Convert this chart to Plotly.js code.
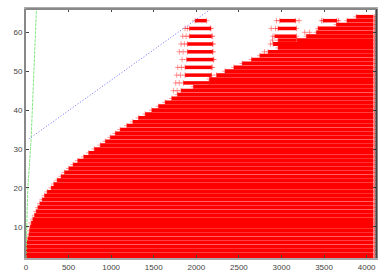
<!DOCTYPE html>
<html><head><meta charset="utf-8">
<script src="https://cdn.plot.ly/plotly-3.0.1.min.js"></script>
<style>html,body{margin:0;padding:0;background:#fff}</style></head>
<body><div id="c" style="width:390px;height:273px"></div>
<script>
var mainLevels=[2,3,4,5,6,7,8,9,10,11,12,13,14,15,16,17,18,19,20,21,22,23,24,25,26,27,28,29,30,31,32,33,34,35,36,37,38,39,40,41,42,43,44,45,46,47,48,49,50,51,52,53,54,55,56,57,58,59,60,61,62,63,64];
var mainStart=[0,0,0,2,10,22,34,41,49,61,80,100,119,139,162,190,217,248,295,326,365,412,451,502,553,607,678,736,802,872,931,989,1048,1106,1184,1255,1321,1399,1477,1555,1633,1711,1778,1821,1965,2153,2153,2238,2336,2441,2539,2648,2746,2843,2960,2902,3183,3292,3409,3429,3644,3769,3878];
var mainEnd=4080;
var islandLevels=[63,61,59,57,55,53,51,49,47,63,63,61,59,58];
var islandStart=[1985,1918,1918,1895,1895,1887,1868,1868,1848,2980,3488,2960,2922,2960];
var islandEnd=[2121,2172,2180,2192,2192,2200,2180,2180,2153,3167,3651,3175,3175,3175];
var looseY=[61,61,59,59,57,57,55,55,53,51,51,49,49,47,47,45,45,63,63,61,61,59,60,60,58,57,55,63,63,61,59,57,55,53,51];
var looseX=[1868,1895,1840,1880,1821,1860,1801,1845,1833,1782,1825,1770,1815,1758,1800,1731,1775,2941,3207,2880,2930,2900,3273,3331,2895,2870,2800,3470,3670,2165,2190,2195,2195,2205,2188];
var greenX=[0,6,21,53,61,123];
var greenY=[2,10,20,30,33,66];
var blueX=[33,2170];
var blueY=[32.6,66];
var rightEdge=4092;

function segs(ys,a,b){var X=[],Y=[];for(var i=0;i<ys.length;i++){X.push(a[i],b[i],null);Y.push(ys[i],ys[i],null);}return{x:X,y:Y};}
var endArr=mainLevels.map(function(){return mainEnd;});
var m=segs(mainLevels,mainStart,endArr), s=segs(islandLevels,islandStart,islandEnd);
var edgeX=mainLevels.map(function(){return rightEdge;});
var ptX=mainStart.concat(islandStart,islandEnd,looseX,edgeX);
var ptY=mainLevels.concat(islandLevels,islandLevels,looseY,mainLevels);
var red='rgb(255,0,0)';
var traces=[
 {x:m.x,y:m.y,mode:'lines',line:{color:red,width:3.8},hoverinfo:'skip'},
 {x:s.x,y:s.y,mode:'lines',line:{color:red,width:3.5},hoverinfo:'skip'},
 {x:ptX,y:ptY,mode:'markers',marker:{symbol:'cross-thin-open',size:4,color:'rgba(255,0,0,0.4)',line:{color:'rgba(255,0,0,0.4)',width:1}},hoverinfo:'skip'},
 {x:greenX,y:greenY,mode:'lines',line:{color:'#7fe87f',width:1,dash:'3px,1px'},hoverinfo:'skip'},
 {x:blueX,y:blueY,mode:'lines',line:{color:'#6a6aff',width:1,dash:'1px,2px'},hoverinfo:'skip'}
];
var axisFont={family:'"Liberation Sans",Arial,sans-serif',size:8,color:'#444'};
var layout={
 width:390,height:273,showlegend:false,paper_bgcolor:'#fff',plot_bgcolor:'#fff',
 margin:{l:25.5,r:13.5,t:9,b:15,pad:0},
 xaxis:{range:[0,4110],tickmode:'array',tickvals:[0,500,1000,1500,2000,2500,3000,3500,4000],ticktext:['0','500','1000','1500','2000','2500','3000','3500','4000'],ticks:'inside',ticklen:3,tickwidth:1,tickcolor:'#444',mirror:'ticks',showgrid:false,zeroline:false,showline:true,linecolor:'#aaa',linewidth:2,tickfont:axisFont,automargin:false},
 yaxis:{range:[2,66],tickmode:'array',tickvals:[10,20,30,40,50,60],ticktext:['10','20','30','40','50','60'],ticks:'inside',ticklen:3,tickwidth:1,tickcolor:'#444',mirror:'ticks',showgrid:false,zeroline:false,showline:true,linecolor:'#888',linewidth:2,tickfont:axisFont,automargin:false},
 shapes:[{type:'line',xref:'paper',yref:'paper',x0:1,x1:1,y0:0,y1:1,line:{color:'#000',width:1}},{type:'line',xref:'paper',yref:'paper',x0:0,x1:1,y0:1,y1:1,line:{color:'#888',width:2}}]
};
Plotly.newPlot('c',traces,layout,{staticPlot:true,displayModeBar:false});
</script></body></html>
